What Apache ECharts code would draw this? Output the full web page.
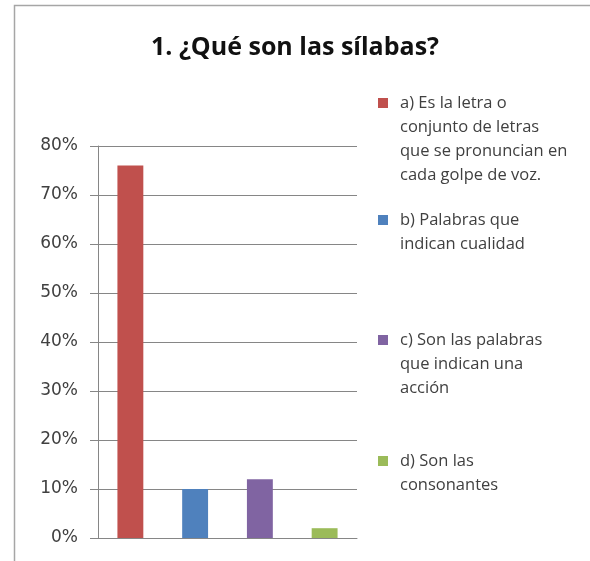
<!DOCTYPE html>
<html>
<head>
<meta charset="utf-8">
<script src="https://cdn.jsdelivr.net/npm/echarts@6/dist/echarts.min.js"></script>
<style>
  html, body { margin: 0; padding: 0; background: #fff; }
  #chart { width: 590px; height: 561px; }
</style>
</head>
<body>
<div id="chart"></div>
<script>
const titleText = '1. ¿Qué son las sílabas?';
const categories = ['a', 'b', 'c', 'd'];
const seriesNames = [
  'a) Es la letra o conjunto de letras que se pronuncian en cada golpe de voz.',
  'b) Palabras que indican cualidad',
  'c) Son las palabras que indican una acción',
  'd) Son las consonantes',
];
// legend text as it wraps in the picture
const legendLines = [
  ['a) Es la letra o', 'conjunto de letras', 'que se pronuncian en', 'cada golpe de voz.'],
  ['b) Palabras que', 'indican cualidad'],
  ['c) Son las palabras', 'que indican una', 'acción'],
  ['d) Son las', 'consonantes'],
];
const values = [0.76, 0.10, 0.12, 0.02];
const colors = ['#C0504D', '#4F81BD', '#8064A2', '#9BBB59'];
const yTicks = [0, 0.1, 0.2, 0.3, 0.4, 0.5, 0.6, 0.7, 0.8];

const chart = echarts.init(document.getElementById('chart'));

const legendTops = [91, 208, 328, 449];

const series = seriesNames.map((name, i) => ({
  name,
  type: 'bar',
  barWidth: '40%',
  barGap: '-100%',
  itemStyle: { color: colors[i] },
  data: categories.map((c, j) => (j === i ? values[i] : null)),
}));

const legends = seriesNames.map((name, i) => ({
  data: [name],
  left: 373,
  top: legendTops[i],
  padding: 0,
  itemWidth: 0,
  itemHeight: 0,
  icon: 'rect',
  selectedMode: false,
  formatter: () => legendLines[i]
    .map((line, k) => (k === 0 ? '{sq| }{gap| }{t|' + line + '}' : '{ind| }{t|' + line + '}'))
    .join('\n'),
  textStyle: {
    lineHeight: 24,
    rich: {
      sq: { width: 10, height: 10, backgroundColor: colors[i], lineHeight: 24 },
      gap: { width: 12, lineHeight: 24 },
      ind: { width: 22, lineHeight: 24 },
      t: { fontFamily: 'Open Sans', fontSize: 16.5, color: '#404040', lineHeight: 24 },
    },
  },
}));

const option = {
  backgroundColor: '#fff',
  animation: false,
  graphic: [{
    type: 'rect',
    shape: { x: 14.5, y: 5.5, width: 700, height: 700 },
    style: { fill: 'none', stroke: '#a6a6a6', lineWidth: 1.5 },
    silent: true,
  }],
  title: {
    text: titleText,
    left: 'center',
    top: 30,
    textStyle: { fontFamily: 'Open Sans', fontWeight: 'bold', fontSize: 25, color: '#111' },
  },
  legend: legends,
  grid: { left: 98, right: 233, top: 146, bottom: 23 },
  xAxis: {
    type: 'category',
    data: categories,
    axisLine: { lineStyle: { color: '#868686', width: 1 } },
    axisTick: { show: false },
    axisLabel: { show: false },
  },
  yAxis: {
    type: 'value',
    min: yTicks[0],
    max: yTicks[yTicks.length - 1],
    interval: 0.1,
    axisLine: { show: true, lineStyle: { color: '#868686', width: 1 } },
    axisTick: { show: true, inside: false, length: 8, lineStyle: { color: '#868686' } },
    splitLine: { lineStyle: { color: '#868686', width: 1 } },
    axisLabel: {
      margin: 20,
      fontFamily: 'DejaVu Sans',
      fontSize: 17,
      color: '#404040',
      formatter: (v) => Math.round(v * 100) + '%',
    },
  },
  series,
};

chart.setOption(option);
</script>
</body>
</html>
